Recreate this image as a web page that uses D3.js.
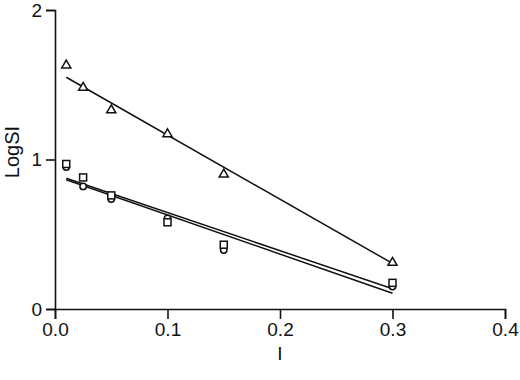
<!DOCTYPE html>
<html>
<head>
<meta charset="utf-8">
<script src="https://cdn.jsdelivr.net/npm/d3@7"></script>
<style>
  body { margin: 0; background: #fff; }
  svg text { font-family: "Liberation Sans", Arial, sans-serif; fill: #111; }
</style>
</head>
<body>
<div id="chart"></div>
<script>
// data
const doses = [0.01, 0.025, 0.05, 0.1, 0.15, 0.3];
const triangleVals = [1.63, 1.48, 1.33, 1.17, 0.90, 0.31];
const squareVals = [0.97, 0.88, 0.76, 0.58, 0.43, 0.175];
const circleVals = [0.95, 0.82, 0.735, 0.605, 0.395, 0.15];
// fitted lines: [x, y] at the two ends
const fitTriangle = [[0.01, 1.55], [0.3, 0.305]];
const fitSquare = [[0.01, 0.875], [0.3, 0.135]];
const fitCircle = [[0.01, 0.865], [0.3, 0.105]];
const xTicks = [0, 0.1, 0.2, 0.3, 0.4];
const yTicks = [0, 1, 2];

const W = 520, H = 380;
const margin = { top: 10, right: 15, bottom: 71, left: 55 };

const svg = d3.select('#chart').append('svg')
  .attr('width', W).attr('height', H);

const x = d3.scaleLinear().domain([0, 0.4]).range([margin.left, W - margin.right]);
const y = d3.scaleLinear().domain([0, 2]).range([H - margin.bottom, margin.top]);

// axes
const xAxis = svg.append('g')
  .attr('transform', `translate(0,${y(0)})`)
  .call(d3.axisBottom(x).tickValues(xTicks).tickFormat(d3.format('.1f')).tickSizeOuter(0).tickSize(10).tickPadding(4));
const yAxis = svg.append('g')
  .attr('transform', `translate(${x(0)},0)`)
  .call(d3.axisLeft(y).tickValues(yTicks).tickFormat(d3.format('d')).tickSizeOuter(0).tickSize(9).tickPadding(4));

[xAxis, yAxis].forEach(g => {
  g.select('.domain').attr('stroke', '#111').attr('stroke-width', 1.6);
  g.selectAll('.tick line').attr('stroke', '#111').attr('stroke-width', 1.6);
  g.selectAll('.tick text').attr('font-size', 19).attr('fill', '#111')
    .style('font-family', '"Liberation Sans", Arial, sans-serif');
});

// axis titles
svg.append('text')
  .attr('x', x(0.2)).attr('y', 360)
  .attr('text-anchor', 'middle').attr('font-size', 19)
  .text('I');
svg.append('text')
  .attr('transform', `translate(19,${y(1.05)}) rotate(-90)`)
  .attr('text-anchor', 'middle').attr('font-size', 20)
  .text('LogSI');

// fitted lines
const line = d3.line().x(d => x(d[0])).y(d => y(d[1]));
[fitTriangle, fitSquare, fitCircle].forEach(f => {
  svg.append('path').datum(f)
    .attr('d', line)
    .attr('fill', 'none').attr('stroke', '#111').attr('stroke-width', 1.5);
});

// markers
const pts = vals => doses.map((d, i) => ({ x: d, y: vals[i] }));

svg.append('g').selectAll('circle')
  .data(pts(circleVals)).join('circle')
  .attr('cx', d => x(d.x)).attr('cy', d => y(d.y)).attr('r', 3.2)
  .attr('fill', '#fff').attr('stroke', '#111').attr('stroke-width', 1.5);

svg.append('g').selectAll('rect')
  .data(pts(squareVals)).join('rect')
  .attr('x', d => x(d.x) - 3.5).attr('y', d => y(d.y) - 3.5)
  .attr('width', 7).attr('height', 7)
  .attr('fill', '#fff').attr('stroke', '#111').attr('stroke-width', 1.5);

const tri = d3.symbol().type(d3.symbolTriangle).size(36);
svg.append('g').selectAll('path')
  .data(pts(triangleVals)).join('path')
  .attr('transform', d => `translate(${x(d.x)},${y(d.y)})`)
  .attr('d', tri)
  .attr('fill', '#fff').attr('stroke', '#111').attr('stroke-width', 1.5);
</script>
</body>
</html>
